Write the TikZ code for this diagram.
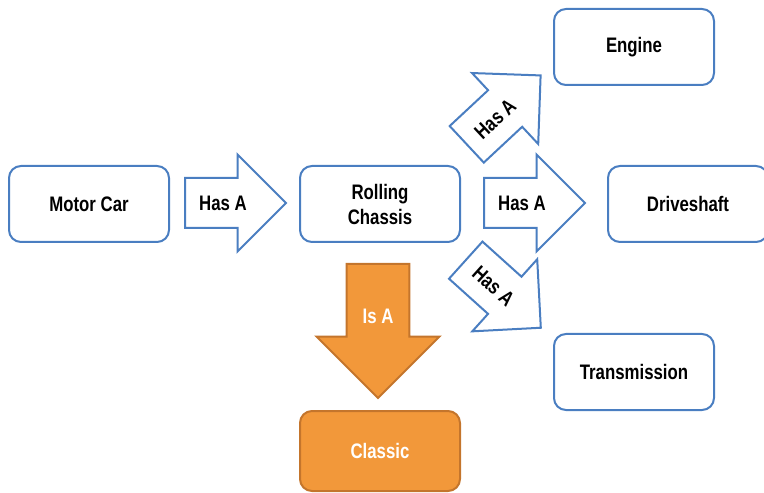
\documentclass[tikz,border=0pt]{standalone}
\usepackage{fontspec}
\setmainfont{Liberation Sans}[FakeStretch=0.8]
\usetikzlibrary{shapes.arrows}
\definecolor{partblue}{RGB}{74,126,193}
\definecolor{kindorange}{RGB}{242,152,58}
\definecolor{kindedge}{RGB}{196,117,44}
\begin{document}
\begin{tikzpicture}[x=0.5pt,y=0.5pt,
    font=\fontsize{10.5}{12.5}\selectfont\bfseries,
    part/.style={draw=partblue,line width=1pt,rounded corners=6pt,
      minimum width=80pt,minimum height=38pt,align=center,inner sep=0pt},
    kind/.style={part,draw=kindedge,fill=kindorange,text=white},
    hasa/.style={single arrow,draw=partblue,line width=1pt,fill=white,
      single arrow tip angle=90,single arrow head extend=11.75pt,
      minimum width=0pt,minimum height=50.5pt,text height=8pt,text depth=0pt,
      inner ysep=8pt,inner xsep=2pt,anchor=tail},
    isa/.style={single arrow,draw=kindedge,line width=1pt,fill=kindorange,text=white,
      single arrow tip angle=90,single arrow head extend=15pt,shape border rotate=270,
      minimum width=0pt,minimum height=67pt,text height=8pt,text depth=0pt,
      inner xsep=7.5pt,inner ysep=4pt,anchor=tail}]
  \useasboundingbox (0,0) rectangle (764,492);
  \draw
    (89,288) node[part] (car){Motor Car}
    (380,288) node[part] (chassis){Rolling\\Chassis}
    (634,445) node[part] (engine){Engine}
    (688,288) node[part] (shaft){Driveshaft}
    (634,120) node[part] (gearbox){Transmission}
    (380,41) node[kind,minimum height=40pt] (classic){Classic};
  \begin{scope}
    \node[hasa] (hasa1) at (184,289) {Has A};
    \node[hasa] (hasa2) at (483,289) {Has A};
    \node[hasa,rotate=43] (hasa3) at (466,347) {Has A};
    \node[hasa,rotate=-42] (hasa4) at (465,232.5) {Has A};
    \node[isa] (isa) at (378,229) {Is A};
  \end{scope}
\end{tikzpicture}
\end{document}
